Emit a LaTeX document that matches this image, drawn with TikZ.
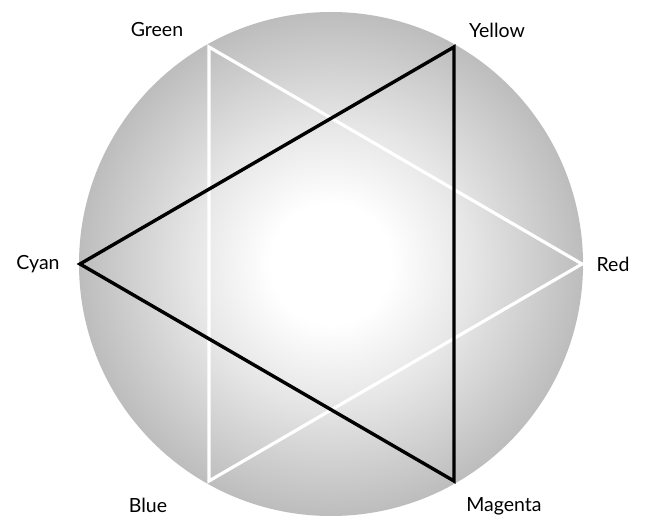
\documentclass[tikz,border=0pt]{standalone}
\usepackage{fontspec}
\setmainfont{Lato}
\pgfdeclareradialshading{ballshade}{\pgfpoint{0bp}{0bp}}{%
  color(0bp)=(white); color(6bp)=(white); color(14bp)=(black!10);
  color(25bp)=(black!26); color(35.4bp)=(black!42); color(100bp)=(black!42)}
\tikzset{
  lbl/.style={font=\fontsize{19.5}{22}\selectfont, text=black, inner sep=0pt},
  wtri/.style={draw=white, line width=3.2pt, line join=miter},
  btri/.style={draw=black, line width=3.4pt, line join=miter},
}
\begin{document}
\begin{tikzpicture}[x=1pt,y=-1pt]
\useasboundingbox (0,0) rectangle (646,516);
\fill[white] (0,0) rectangle (646,516);
\path[shading=ballshade] (331,264) circle (252);
% vertices
\coordinate (G) at (209,47);
\coordinate (Y) at (454,47);
\coordinate (C) at (80,264);
\coordinate (R) at (582,264);
\coordinate (B) at (209,481);
\coordinate (M) at (454,481);
\draw[wtri] (G) -- (R) -- (B) -- cycle;
\draw[btri] (Y) -- (C) -- (M) -- cycle;
\node[lbl] (lG) at (157,30) {Green};
\node[lbl] (lY) at (497,30) {Yellow};
\node[lbl] (lC) at (38,264) {Cyan};
\node[lbl] (lR) at (613,264) {Red};
\node[lbl] (lB) at (148,505) {Blue};
\node[lbl] (lM) at (504,506) {Magenta};
\end{tikzpicture}
\end{document}
